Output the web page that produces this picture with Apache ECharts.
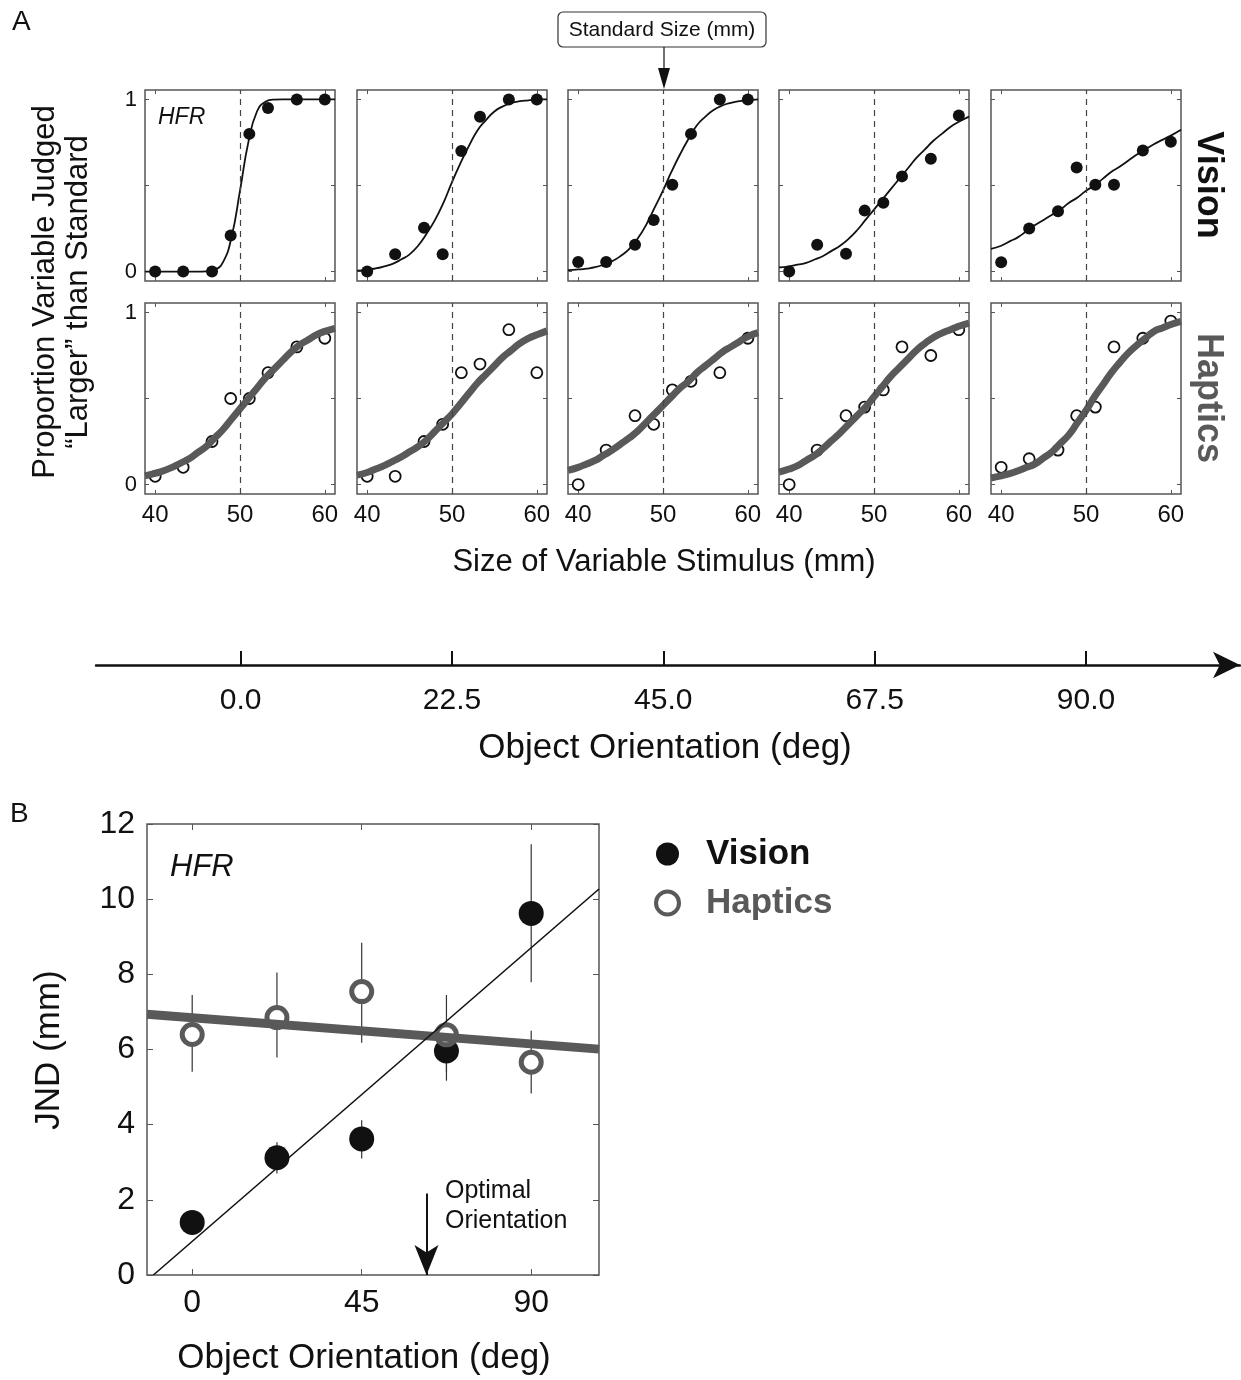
<!DOCTYPE html>
<html>
<head>
<meta charset="utf-8">
<script src="https://cdn.jsdelivr.net/npm/echarts@6/dist/echarts.min.js"></script>
<style>
html,body{margin:0;padding:0;background:#fff;}
#chart{width:1241px;height:1380px;}
</style>
</head>
<body>
<div id="chart"></div>
<script>
// panel A: psychometric data, one row per orientation
var stimX = [40, 43.3, 46.7, 48.9, 51.1, 53.3, 56.7, 60];
var orientTicks = [0, 22.5, 45, 67.5, 90];
var visionProps = [
  [0, 0, 0, 0.21, 0.80, 0.95, 1, 1],
  [0, 0.10, 0.255, 0.10, 0.70, 0.90, 1, 1],
  [0.056, 0.056, 0.155, 0.30, 0.505, 0.80, 1, 1],
  [0, 0.155, 0.104, 0.354, 0.40, 0.553, 0.656, 0.907],
  [0.054, 0.25, 0.35, 0.605, 0.505, 0.505, 0.704, 0.754]
];
var hapticProps = [
  [0.048, 0.10, 0.25, 0.50, 0.50, 0.65, 0.80, 0.85],
  [0.048, 0.048, 0.25, 0.35, 0.65, 0.70, 0.90, 0.65],
  [0, 0.20, 0.40, 0.35, 0.55, 0.60, 0.65, 0.85],
  [0, 0.20, 0.40, 0.45, 0.55, 0.80, 0.75, 0.90],
  [0.10, 0.15, 0.20, 0.40, 0.45, 0.80, 0.85, 0.95]
];
// fitted curves, edge to edge of each panel
var fitX = [38.8, 40, 41, 42, 43, 44, 45, 46, 47, 48, 49, 50, 51, 52, 53, 54, 55, 56, 57, 58, 59, 60, 61.2];
var visionFits = [
  [0, 0, 0, 0, 0, 0, 0, 0.001, 0.01, 0.055, 0.2, 0.47, 0.755, 0.93, 0.987, 0.999, 1, 1, 1, 1, 1, 1, 1],
  [0.005, 0.01, 0.018, 0.03, 0.045, 0.07, 0.10, 0.15, 0.22, 0.30, 0.40, 0.52, 0.63, 0.73, 0.82, 0.88, 0.93, 0.96, 0.98, 0.99, 0.995, 1, 1],
  [0.008, 0.012, 0.017, 0.025, 0.04, 0.06, 0.09, 0.13, 0.19, 0.27, 0.37, 0.47, 0.58, 0.68, 0.77, 0.85, 0.90, 0.94, 0.965, 0.98, 0.99, 0.995, 1],
  [0.024, 0.03, 0.04, 0.05, 0.07, 0.09, 0.12, 0.15, 0.19, 0.24, 0.30, 0.36, 0.42, 0.48, 0.54, 0.60, 0.66, 0.71, 0.76, 0.80, 0.84, 0.87, 0.90],
  [0.131, 0.15, 0.175, 0.20, 0.235, 0.27, 0.30, 0.33, 0.36, 0.40, 0.43, 0.47, 0.50, 0.54, 0.58, 0.61, 0.645, 0.68, 0.71, 0.74, 0.765, 0.79, 0.824]
];
var hapticFits = [
  [0.05, 0.065, 0.08, 0.10, 0.125, 0.15, 0.185, 0.22, 0.27, 0.32, 0.38, 0.44, 0.50, 0.56, 0.62, 0.67, 0.72, 0.77, 0.81, 0.84, 0.87, 0.89, 0.908],
  [0.055, 0.07, 0.09, 0.11, 0.135, 0.16, 0.19, 0.22, 0.26, 0.31, 0.36, 0.41, 0.47, 0.53, 0.59, 0.64, 0.69, 0.74, 0.78, 0.82, 0.85, 0.87, 0.893],
  [0.082, 0.10, 0.12, 0.14, 0.17, 0.20, 0.235, 0.27, 0.31, 0.36, 0.41, 0.46, 0.51, 0.56, 0.60, 0.65, 0.69, 0.73, 0.77, 0.80, 0.83, 0.86, 0.883],
  [0.072, 0.09, 0.11, 0.14, 0.17, 0.21, 0.255, 0.30, 0.35, 0.40, 0.45, 0.51, 0.57, 0.63, 0.68, 0.73, 0.78, 0.82, 0.855, 0.88, 0.90, 0.92, 0.938],
  [0.038, 0.05, 0.063, 0.08, 0.10, 0.12, 0.155, 0.19, 0.24, 0.29, 0.36, 0.43, 0.51, 0.58, 0.65, 0.71, 0.765, 0.81, 0.85, 0.89, 0.91, 0.93, 0.948]
];

// panel B: JND vs orientation
var orientDeg = [0, 22.5, 45, 67.5, 90];
var visionJnd = [1.40, 3.12, 3.62, 5.96, 9.62];
var visionLow = [1.25, 2.70, 3.10, 5.40, 7.79];
var visionHigh = [1.55, 3.53, 4.12, 6.50, 11.46];
var hapticJnd = [6.40, 6.85, 7.54, 6.39, 5.66];
var hapticLow = [5.41, 5.79, 6.18, 5.17, 4.83];
var hapticHigh = [7.45, 8.05, 8.84, 7.45, 6.50];
var visionFitLine = [[-10.3, 0], [108, 10.27]];
var hapticFitLine = [[-12, 6.94], [108, 6.01]];
var optimalOrientation = 62.2;

var FONT = '"Liberation Sans", Arial, Helvetica, sans-serif';
var INK = '#111';
var GRAY = '#595959';

var chart = echarts.init(document.getElementById('chart'));

var grids = [], xAxes = [], yAxes = [], series = [];
var colLeft = [145, 357, 568, 779, 991];
var noLine = {show: false, onZero: false};

function zip(xs, ys) {
  return xs.map(function (x, i) { return [x, ys[i]]; });
}

for (var r = 0; r < 2; r++) {
  for (var c = 0; c < 5; c++) {
    var gi = grids.length;
    grids.push({
      left: colLeft[c], top: r ? 303 : 90, width: 190, height: 191,
      show: true, borderColor: '#555', borderWidth: 1.5, backgroundColor: 'transparent'
    });
    xAxes.push({
      gridIndex: gi, type: 'value', min: 38.8, max: 61.2, position: 'bottom',
      axisLine: noLine, splitLine: {show: false},
      axisTick: {inside: true, length: 4, customValues: [40, 50, 60], lineStyle: {color: '#555'}},
      axisLabel: {show: r === 1, customValues: [40, 50, 60], fontSize: 24, margin: 9, color: INK, fontFamily: FONT}
    });
    xAxes.push({
      gridIndex: gi, type: 'value', min: 38.8, max: 61.2, position: 'top',
      axisLine: noLine, splitLine: {show: false}, axisLabel: {show: false},
      axisTick: {inside: true, length: 4, customValues: [40, 50, 60], lineStyle: {color: '#555'}}
    });
    yAxes.push({
      gridIndex: gi, type: 'value', min: -0.055, max: 1.055, position: 'left',
      axisLine: noLine, splitLine: {show: false},
      axisTick: {show: true, inside: true, length: 4, customValues: [0, 0.5, 1], lineStyle: {color: '#555'}},
      axisLabel: {show: c === 0, customValues: [0, 1], fontSize: 22, margin: 8, color: INK, fontFamily: FONT}
    });
    yAxes.push({
      gridIndex: gi, type: 'value', min: -0.055, max: 1.055, position: 'right',
      axisLine: noLine, splitLine: {show: false}, axisLabel: {show: false},
      axisTick: {show: true, inside: true, length: 4, customValues: [0, 0.5, 1], lineStyle: {color: '#555'}}
    });
    var fits = r ? hapticFits[c] : visionFits[c];
    var props = r ? hapticProps[c] : visionProps[c];
    series.push({
      type: 'line', name: (r ? 'hfit' : 'vfit') + c,
      xAxisIndex: 2 * gi, yAxisIndex: 2 * gi,
      data: zip(fitX, fits), smooth: 0.5, showSymbol: false, clip: true,
      lineStyle: r ? {color: GRAY, width: 7} : {color: INK, width: 1.8},
      markLine: {
        silent: true, symbol: 'none', label: {show: false},
        lineStyle: {type: [6, 5], color: '#444', width: 1.2},
        data: [{xAxis: 50}]
      }
    });
    series.push({
      type: 'scatter', name: (r ? 'hdat' : 'vdat') + c,
      xAxisIndex: 2 * gi, yAxisIndex: 2 * gi,
      data: zip(stimX, props),
      symbolSize: r ? 11 : 12,
      itemStyle: r ? {color: '#fff', borderColor: INK, borderWidth: 1.8, opacity: 1} : {color: INK, opacity: 1}
    });
  }
}

// panel B grid
grids.push({left: 147, top: 824, width: 452, height: 451, show: true, borderColor: '#555', borderWidth: 1.5, backgroundColor: 'transparent'});
xAxes.push({
  gridIndex: 10, type: 'value', min: -12, max: 108, position: 'bottom',
  axisLine: noLine, splitLine: {show: false},
  axisTick: {inside: true, length: 6, customValues: [0, 45, 90], lineStyle: {color: '#555'}},
  axisLabel: {customValues: [0, 45, 90], fontSize: 32, margin: 12, color: INK, fontFamily: FONT}
});
xAxes.push({
  gridIndex: 10, type: 'value', min: -12, max: 108, position: 'top',
  axisLine: noLine, splitLine: {show: false}, axisLabel: {show: false},
  axisTick: {inside: true, length: 6, customValues: [0, 45, 90], lineStyle: {color: '#555'}}
});
yAxes.push({
  gridIndex: 10, type: 'value', min: 0, max: 12, interval: 2, position: 'left',
  axisLine: noLine, splitLine: {show: false},
  axisTick: {show: true, inside: true, length: 6, lineStyle: {color: '#555'}},
  axisLabel: {fontSize: 32, margin: 12, color: INK, fontFamily: FONT}
});
yAxes.push({
  gridIndex: 10, type: 'value', min: 0, max: 12, interval: 2, position: 'right',
  axisLine: noLine, splitLine: {show: false}, axisLabel: {show: false},
  axisTick: {show: true, inside: true, length: 6, lineStyle: {color: '#555'}}
});

// orientation arrow axis between A and B
grids.push({left: 96, top: 600, width: 1144, height: 65});
xAxes.push({
  gridIndex: 11, type: 'value', min: -15.4, max: 106.4, position: 'bottom',
  axisLine: {show: true, onZero: false, symbol: ['none', 'arrow'], symbolSize: [20, 27], lineStyle: {color: INK, width: 2.5}},
  splitLine: {show: false},
  axisTick: {inside: true, length: 14, customValues: orientTicks, lineStyle: {color: INK, width: 2}},
  axisLabel: {customValues: orientTicks, fontSize: 30, margin: 21, color: INK, fontFamily: FONT,
    formatter: function (v) { return v.toFixed(1); }}
});
yAxes.push({gridIndex: 11, type: 'value', min: 0, max: 1, show: false});

function errorBar(color) {
  return function (params, api) {
    var top = api.coord([api.value(0), api.value(2)]);
    var bot = api.coord([api.value(0), api.value(1)]);
    return {type: 'line', shape: {x1: top[0], y1: top[1], x2: bot[0], y2: bot[1]},
      style: {stroke: color, lineWidth: 1.2}};
  };
}
function bars(xs, lo, hi) {
  return xs.map(function (x, i) { return [x, lo[i], hi[i]]; });
}

series.push({
  type: 'custom', name: 'hErr', xAxisIndex: 20, yAxisIndex: 20,
  renderItem: errorBar('#333'), encode: {x: 0, y: [1, 2]},
  data: bars(orientDeg, hapticLow, hapticHigh)
});
series.push({
  type: 'custom', name: 'vErr', xAxisIndex: 20, yAxisIndex: 20,
  renderItem: errorBar('#333'), encode: {x: 0, y: [1, 2]},
  data: bars(orientDeg, visionLow, visionHigh)
});
series.push({
  type: 'line', name: 'hFitB', xAxisIndex: 20, yAxisIndex: 20,
  data: hapticFitLine, showSymbol: false, clip: true,
  lineStyle: {color: GRAY, width: 9}
});
series.push({
  type: 'line', name: 'vFitB', xAxisIndex: 20, yAxisIndex: 20,
  data: visionFitLine, showSymbol: false, clip: true,
  lineStyle: {color: INK, width: 1.6},
  markLine: {
    silent: true, symbol: ['none', 'arrow'], symbolSize: [18, 30], label: {show: false},
    lineStyle: {type: 'solid', color: INK, width: 2},
    data: [[{coord: [optimalOrientation, 2.17]}, {coord: [optimalOrientation, 0]}]]
  }
});
series.push({
  type: 'scatter', name: 'Vision', xAxisIndex: 20, yAxisIndex: 20,
  data: zip(orientDeg, visionJnd), symbolSize: 25,
  itemStyle: {color: INK, opacity: 1}
});
series.push({
  type: 'scatter', name: 'Haptics', xAxisIndex: 20, yAxisIndex: 20,
  data: zip(orientDeg, hapticJnd), symbolSize: 20,
  itemStyle: {color: '#fff', borderColor: GRAY, borderWidth: 5, opacity: 1}
});
series.push({type: 'scatter', name: 'orientAxis', xAxisIndex: 22, yAxisIndex: 22, data: []});

function txt(x, y, s, size, opt) {
  opt = opt || {};
  return {
    type: 'text', x: x, y: y, rotation: opt.rot || 0, silent: true,
    style: {
      text: s, fontSize: size, fontFamily: FONT, fill: opt.color || INK,
      fontWeight: opt.bold ? 'bold' : 'normal', fontStyle: opt.italic ? 'italic' : 'normal',
      align: opt.align || 'center', verticalAlign: opt.va || 'middle', lineHeight: opt.lh
    }
  };
}

var option = {
  animation: false,
  backgroundColor: '#fff',
  grid: grids,
  xAxis: xAxes,
  yAxis: yAxes,
  series: series,
  legend: {
    data: [
      {name: 'Vision', textStyle: {color: INK}, itemStyle: {color: INK, opacity: 1}},
      {name: 'Haptics', textStyle: {color: GRAY}, itemStyle: {color: '#fff', borderColor: GRAY, borderWidth: 4, opacity: 1}}
    ],
    orient: 'vertical', left: 649, top: 831,
    itemWidth: 23, itemHeight: 23, itemGap: 13, selectedMode: false,
    textStyle: {fontSize: 35, fontWeight: 'bold', fontFamily: FONT, lineHeight: 36, padding: [0, 0, 0, 22]}
  },
  graphic: [
    txt(12, 22, 'A', 28, {align: 'left'}),
    txt(10, 814, 'B', 28, {align: 'left'}),
    {type: 'rect', shape: {x: 558, y: 12, width: 208, height: 35, r: 5}, silent: true,
      style: {fill: '#fff', stroke: '#333', lineWidth: 1.2}},
    txt(662, 30, 'Standard Size (mm)', 21),
    {type: 'line', shape: {x1: 664, y1: 47, x2: 664, y2: 70}, silent: true, style: {stroke: INK, lineWidth: 1.2}},
    {type: 'polygon', shape: {points: [[658, 68], [670, 68], [664, 89]]}, silent: true, style: {fill: INK}},
    txt(62, 292, 'Proportion Variable Judged\n\u201cLarger\u201d than Standard', 31, {rot: Math.PI / 2, lh: 33}),
    txt(664, 562, 'Size of Variable Stimulus (mm)', 31),
    txt(1208, 185, 'Vision', 36, {rot: -Math.PI / 2, bold: true}),
    txt(1208, 398, 'Haptics', 36, {rot: -Math.PI / 2, bold: true, color: GRAY}),
    txt(158, 118, 'HFR', 23, {align: 'left', italic: true}),
    txt(665, 748, 'Object Orientation (deg)', 35),
    txt(170, 867, 'HFR', 31, {align: 'left', italic: true}),
    txt(49, 1050, 'JND (mm)', 35, {rot: Math.PI / 2}),
    txt(364, 1358, 'Object Orientation (deg)', 35),
    txt(445, 1206, 'Optimal\nOrientation', 25, {align: 'left', lh: 30})
  ]
};
chart.setOption(option);
</script>
</body>
</html>
